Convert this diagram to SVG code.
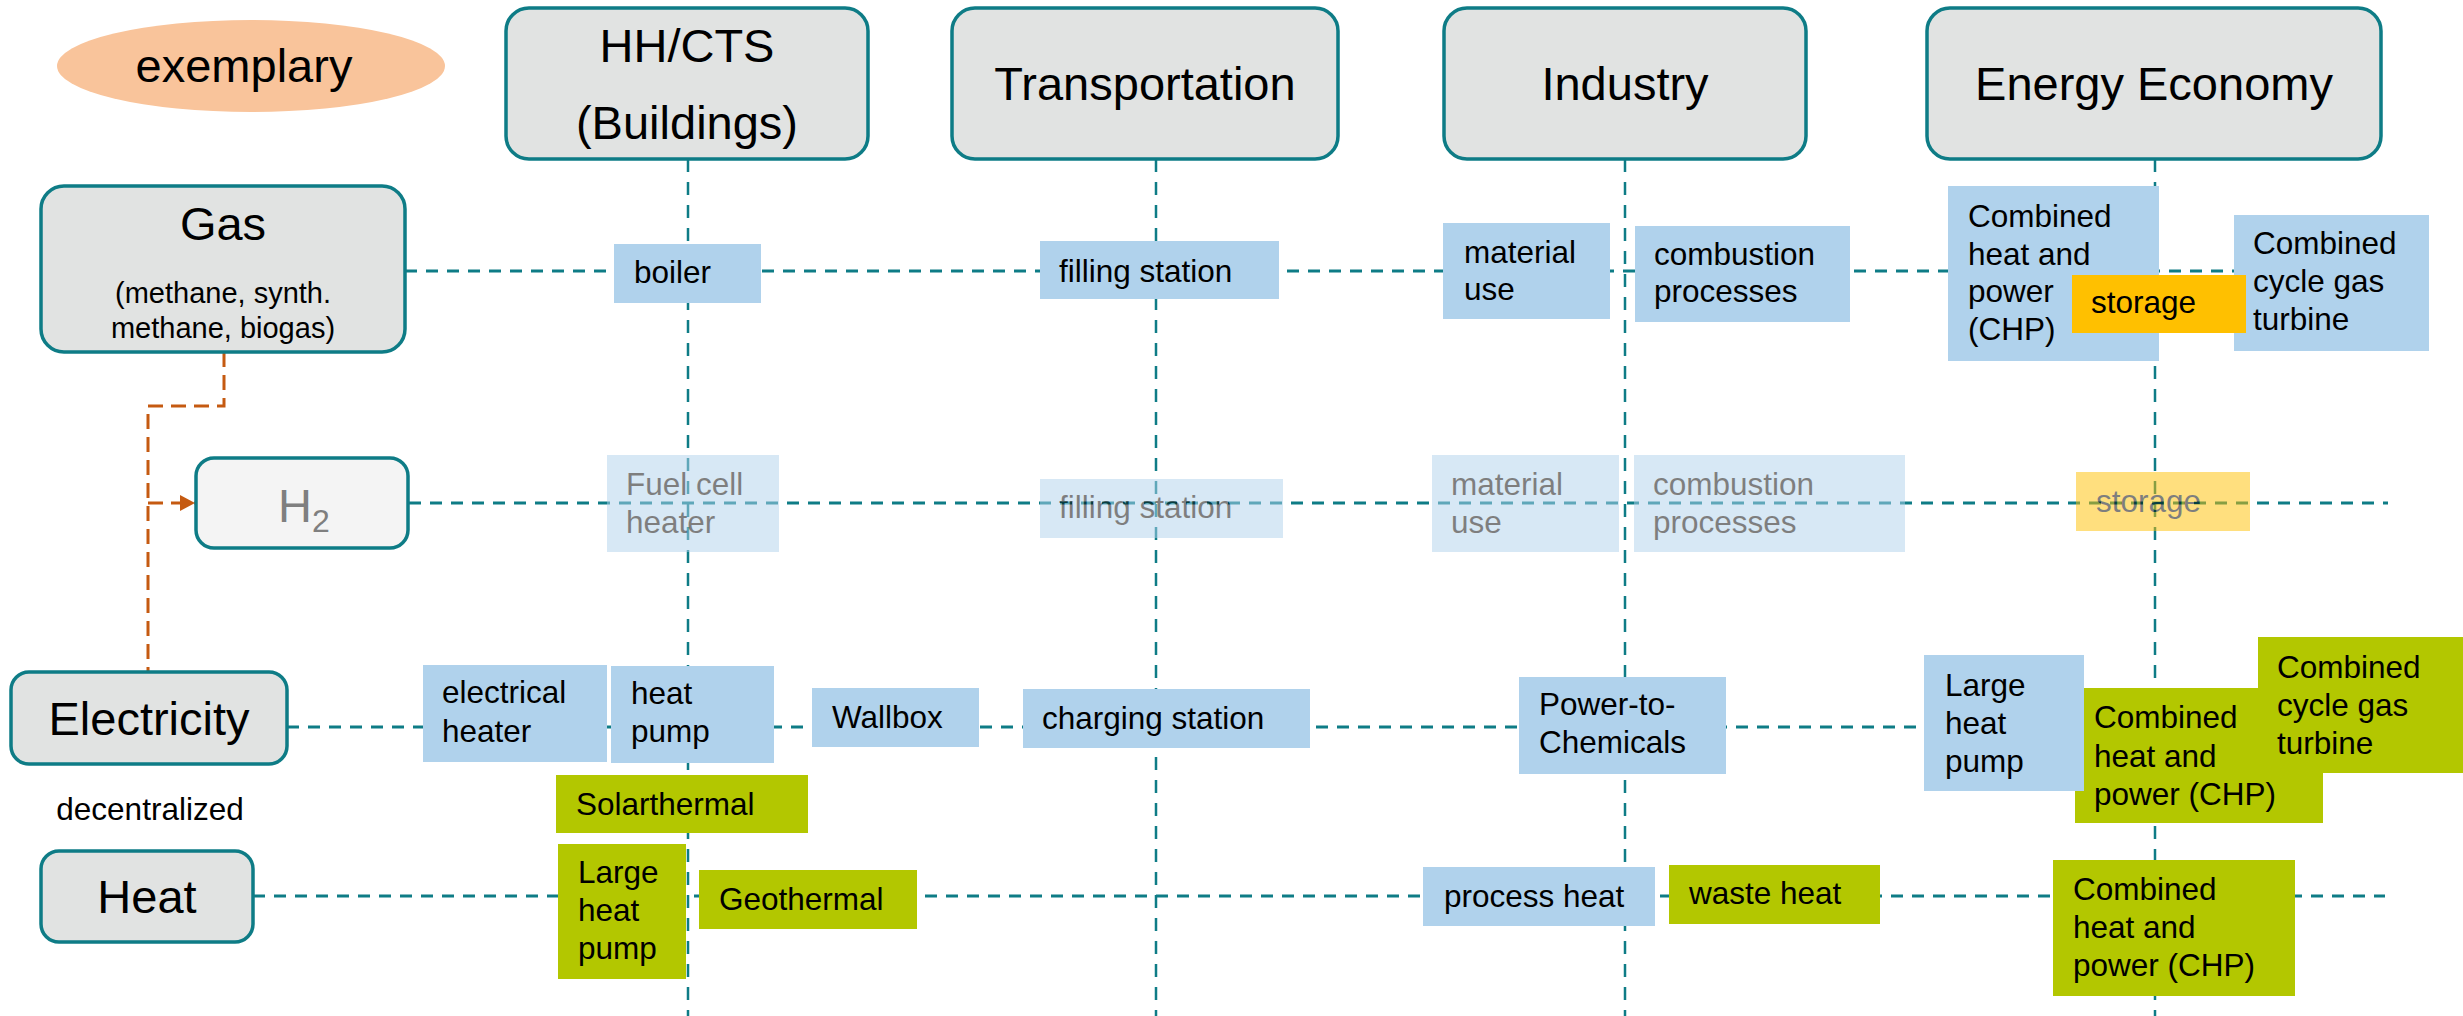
<svg xmlns="http://www.w3.org/2000/svg" width="2463" height="1016" viewBox="0 0 2463 1016">
  <style>
    text { font-family: "Liberation Sans", Arial, sans-serif; fill: #000; }
    .t { font-size: 31.5px; }
    .big { font-size: 47px; }
    .mid { font-size: 29px; }
    .hdr { fill: #E1E3E2; stroke: #0E7C86; stroke-width: 3.5; }
    .blue { fill: #B0D2EC; }
    .green { fill: #B3C700; }
    .orange { fill: #FFC000; }
    .faded { opacity: 0.5; }
    .hline { stroke: #0E7C86; stroke-width: 3; stroke-dasharray: 12 9; fill: none; }
    .vline { stroke: #0E7C86; stroke-width: 2.5; stroke-dasharray: 13 10; fill: none; }
    .link { stroke: #C55A11; stroke-width: 3; stroke-dasharray: 15 8; fill: none; }
  </style>
  <defs>
    <marker id="arrowhead" markerWidth="15" markerHeight="16" refX="15" refY="8" orient="auto" markerUnits="userSpaceOnUse">
      <path d="M0,0 L15,8 L0,16 Z" fill="#C55A11"/>
    </marker>
  </defs>

  <rect width="2463" height="1016" fill="#FFFFFF"/>

  <!-- grid of dashed connectors: sector columns and carrier rows -->
  <g id="connectors">
    <line class="vline" x1="688" y1="159" x2="688" y2="1016"/>
    <line class="vline" x1="1156" y1="159" x2="1156" y2="1016"/>
    <line class="vline" x1="1625" y1="159" x2="1625" y2="1016"/>
    <line class="vline" x1="2155" y1="159" x2="2155" y2="1016"/>
    <line class="hline" x1="405" y1="271" x2="2234" y2="271"/>
    <line class="hline" x1="409" y1="503" x2="2388" y2="503"/>
    <line class="hline" x1="287" y1="727" x2="1924" y2="727"/>
    <line class="hline" x1="253" y1="896" x2="2385" y2="896"/>
    <!-- gas / electricity feed into hydrogen -->
    <path class="link" d="M224,352 V406 H148 V672"/>
    <path class="link" d="M148,503 H195" marker-end="url(#arrowhead)"/>
  </g>

  <g id="exemplary">
    <ellipse cx="251" cy="66" rx="194" ry="46" fill="#F9C49B"/>
    <text class="big" x="244" y="82" text-anchor="middle">exemplary</text>
  </g>

  <!-- sector headers -->
  <g id="hh-cts">
    <rect class="hdr" x="506" y="8" width="362" height="151" rx="23"/>
    <text class="big" x="687" y="62" text-anchor="middle">HH/CTS</text>
    <text class="big" x="687" y="139" text-anchor="middle">(Buildings)</text>
  </g>
  <g id="transportation">
    <rect class="hdr" x="952" y="8" width="386" height="151" rx="23"/>
    <text class="big" x="1145" y="100" text-anchor="middle">Transportation</text>
  </g>
  <g id="industry">
    <rect class="hdr" x="1444" y="8" width="362" height="151" rx="23"/>
    <text class="big" x="1625" y="100" text-anchor="middle">Industry</text>
  </g>
  <g id="energy-economy">
    <rect class="hdr" x="1927" y="8" width="454" height="151" rx="23"/>
    <text class="big" x="2154" y="100" text-anchor="middle">Energy Economy</text>
  </g>

  <!-- energy carriers -->
  <g id="gas">
    <rect class="hdr" x="41" y="186" width="364" height="166" rx="23"/>
    <text class="big" x="223" y="240" text-anchor="middle">Gas</text>
    <text class="mid" x="223" y="303" text-anchor="middle">(methane, synth.</text>
    <text class="mid" x="223" y="338" text-anchor="middle">methane, biogas)</text>
  </g>
  <g id="h2">
    <rect x="196" y="458" width="212" height="90" rx="18" fill="#F4F4F4" stroke="#0E7C86" stroke-width="3.5"/>
    <text class="big" x="278" y="522" style="fill:#7F7F7F">H<tspan font-size="32" dy="10">2</tspan></text>
  </g>
  <g id="electricity">
    <rect class="hdr" x="11" y="672" width="276" height="92" rx="18"/>
    <text class="big" x="149" y="735" text-anchor="middle">Electricity</text>
  </g>
  <g id="decentralized">
    <text class="t" x="150" y="820" text-anchor="middle">decentralized</text>
  </g>
  <g id="heat">
    <rect class="hdr" x="41" y="851" width="212" height="91" rx="18"/>
    <text class="big" x="147" y="913" text-anchor="middle">Heat</text>
  </g>

  <!-- gas row -->
  <g id="gas-boiler">
    <rect class="blue" x="614" y="244" width="147" height="59"/>
    <text class="t" x="634" y="283">boiler</text>
  </g>
  <g id="gas-filling-station">
    <rect class="blue" x="1040" y="241" width="239" height="58"/>
    <text class="t" x="1059" y="282">filling station</text>
  </g>
  <g id="gas-material-use">
    <rect class="blue" x="1443" y="223" width="167" height="96"/>
    <text class="t" x="1464" y="263">material</text>
    <text class="t" x="1464" y="300">use</text>
  </g>
  <g id="gas-combustion">
    <rect class="blue" x="1635" y="226" width="215" height="96"/>
    <text class="t" x="1654" y="265">combustion</text>
    <text class="t" x="1654" y="302">processes</text>
  </g>
  <g id="gas-chp">
    <rect class="blue" x="1948" y="186" width="211" height="175"/>
    <text class="t" x="1968" y="227">Combined</text>
    <text class="t" x="1968" y="265">heat and</text>
    <text class="t" x="1968" y="302">power</text>
    <text class="t" x="1968" y="340">(CHP)</text>
  </g>
  <g id="gas-ccgt">
    <rect class="blue" x="2234" y="215" width="195" height="136"/>
    <text class="t" x="2253" y="254">Combined</text>
    <text class="t" x="2253" y="292">cycle gas</text>
    <text class="t" x="2253" y="330">turbine</text>
  </g>
  <g id="gas-storage">
    <rect class="orange" x="2072" y="275" width="174" height="58"/>
    <text class="t" x="2091" y="313">storage</text>
  </g>

  <!-- hydrogen row (prospective) -->
  <g id="h2-fuel-cell-heater" class="faded">
    <rect class="blue" x="607" y="455" width="172" height="97"/>
    <text class="t" x="626" y="495">Fuel cell</text>
    <text class="t" x="626" y="533">heater</text>
  </g>
  <g id="h2-filling-station" class="faded">
    <rect class="blue" x="1040" y="479" width="243" height="59"/>
    <text class="t" x="1059" y="518">filling station</text>
  </g>
  <g id="h2-material-use" class="faded">
    <rect class="blue" x="1432" y="455" width="187" height="97"/>
    <text class="t" x="1451" y="495">material</text>
    <text class="t" x="1451" y="533">use</text>
  </g>
  <g id="h2-combustion" class="faded">
    <rect class="blue" x="1634" y="455" width="271" height="97"/>
    <text class="t" x="1653" y="495">combustion</text>
    <text class="t" x="1653" y="533">processes</text>
  </g>
  <g id="h2-storage" class="faded">
    <rect class="orange" x="2076" y="472" width="174" height="59"/>
    <text class="t" x="2096" y="512">storage</text>
  </g>

  <!-- electricity row -->
  <g id="el-electrical-heater">
    <rect class="blue" x="423" y="665" width="184" height="97"/>
    <text class="t" x="442" y="703">electrical</text>
    <text class="t" x="442" y="742">heater</text>
  </g>
  <g id="el-heat-pump">
    <rect class="blue" x="611" y="666" width="163" height="97"/>
    <text class="t" x="631" y="704">heat</text>
    <text class="t" x="631" y="742">pump</text>
  </g>
  <g id="el-wallbox">
    <rect class="blue" x="812" y="688" width="167" height="59"/>
    <text class="t" x="832" y="728">Wallbox</text>
  </g>
  <g id="el-charging-station">
    <rect class="blue" x="1023" y="689" width="287" height="59"/>
    <text class="t" x="1042" y="729">charging station</text>
  </g>
  <g id="el-power-to-chemicals">
    <rect class="blue" x="1519" y="677" width="207" height="97"/>
    <text class="t" x="1539" y="715">Power-to-</text>
    <text class="t" x="1539" y="753">Chemicals</text>
  </g>
  <g id="el-chp">
    <rect class="green" x="2075" y="688" width="248" height="135"/>
    <text class="t" x="2094" y="728">Combined</text>
    <text class="t" x="2094" y="767">heat and</text>
    <text class="t" x="2094" y="805">power (CHP)</text>
  </g>
  <g id="el-ccgt">
    <rect class="green" x="2258" y="637" width="205" height="136"/>
    <text class="t" x="2277" y="678">Combined</text>
    <text class="t" x="2277" y="716">cycle gas</text>
    <text class="t" x="2277" y="754">turbine</text>
  </g>
  <g id="el-large-heat-pump">
    <rect class="blue" x="1924" y="655" width="160" height="136"/>
    <text class="t" x="1945" y="696">Large</text>
    <text class="t" x="1945" y="734">heat</text>
    <text class="t" x="1945" y="772">pump</text>
  </g>

  <!-- heat row -->
  <g id="solarthermal">
    <rect class="green" x="556" y="775" width="252" height="58"/>
    <text class="t" x="576" y="815">Solarthermal</text>
  </g>
  <g id="heat-large-heat-pump">
    <rect class="green" x="558" y="844" width="128" height="135"/>
    <text class="t" x="578" y="883">Large</text>
    <text class="t" x="578" y="921">heat</text>
    <text class="t" x="578" y="959">pump</text>
  </g>
  <g id="heat-geothermal">
    <rect class="green" x="699" y="870" width="218" height="59"/>
    <text class="t" x="719" y="910">Geothermal</text>
  </g>
  <g id="heat-process-heat">
    <rect class="blue" x="1423" y="867" width="232" height="59"/>
    <text class="t" x="1444" y="907">process heat</text>
  </g>
  <g id="heat-waste-heat">
    <rect class="green" x="1669" y="865" width="211" height="59"/>
    <text class="t" x="1689" y="904">waste heat</text>
  </g>
  <g id="heat-chp">
    <rect class="green" x="2053" y="860" width="242" height="136"/>
    <text class="t" x="2073" y="900">Combined</text>
    <text class="t" x="2073" y="938">heat and</text>
    <text class="t" x="2073" y="976">power (CHP)</text>
  </g>
</svg>
